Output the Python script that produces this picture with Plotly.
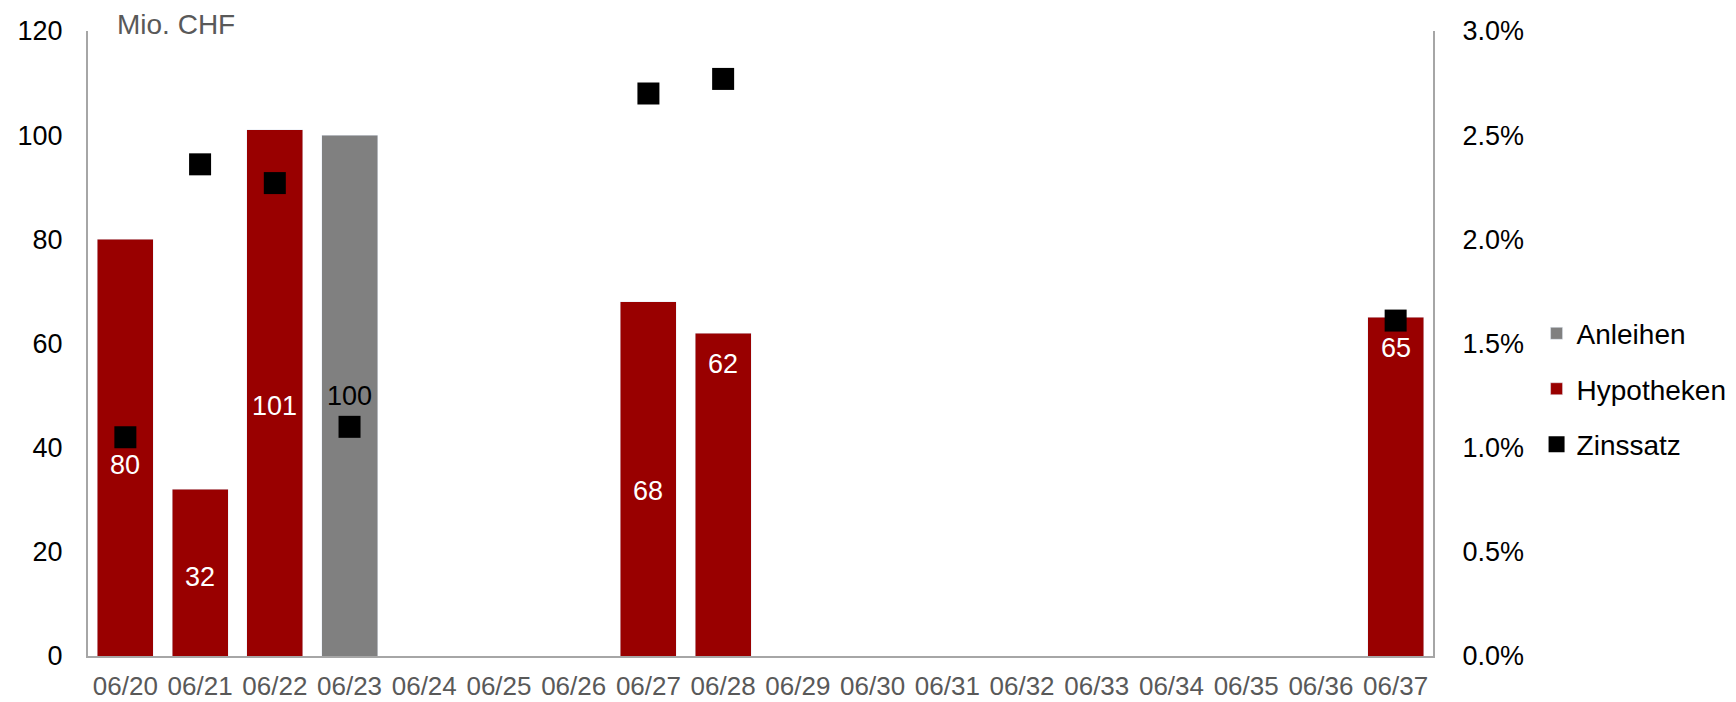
import plotly.graph_objects as go

categories = ["06/20", "06/21", "06/22", "06/23", "06/24", "06/25", "06/26", "06/27", "06/28",
              "06/29", "06/30", "06/31", "06/32", "06/33", "06/34", "06/35", "06/36", "06/37"]
anleihen = [None, None, None, 100, None, None, None, None, None,
            None, None, None, None, None, None, None, None, None]
hypotheken = [80, 32, 101, None, None, None, None, 68, 62,
              None, None, None, None, None, None, None, None, 65]
zinssatz = [0.0105, 0.0236, 0.0227, 0.0110, None, None, None, 0.0270, 0.0277,
            None, None, None, None, None, None, None, None, 0.0161]
# vertical anchor of each bar's value label (in Mio. CHF)
label_anchor = [36.9, 15.4, 48.2, 50.1, None, None, None, 31.9, 56.3,
                None, None, None, None, None, None, None, None, 59.4]

FONT = "Liberation Sans, Arial, sans-serif"
AXIS_GRAY = "#a6a6a6"

L, R, T, B = 88, 303, 31, 46
W, H = 1736, 702
pw, ph = W - L - R, H - T - B

fig = go.Figure()
fig.add_trace(go.Bar(x=categories, y=anleihen, name="Anleihen", marker_color="#808080",
                     legendgroup="a", yaxis="y"))
fig.add_trace(go.Bar(x=categories, y=hypotheken, name="Hypotheken", marker_color="#990000",
                     legendgroup="b", yaxis="y"))
fig.add_trace(go.Scatter(x=categories, y=zinssatz, name="Zinssatz", mode="markers",
                         marker=dict(symbol="square", size=22, color="#000000"),
                         legendgroup="c", yaxis="y2"))

annotations = []
for i, cat in enumerate(categories):
    pos = label_anchor[i]
    if pos is None:
        continue
    if hypotheken[i] is not None:
        val, col = hypotheken[i], "#ffffff"
    else:
        val, col = anleihen[i], "#000000"
    annotations.append(dict(x=cat, y=pos, xref="x", yref="y", text=str(val), showarrow=False,
                            yshift=-1,
                            font=dict(family=FONT, size=27, color=col)))
annotations.append(dict(x=(115 - L) / pw, y=(H - B - 25) / ph, xref="paper", yref="paper",
                        text="Mio. CHF", showarrow=False,
                        font=dict(family=FONT, size=28, color="#595959"),
                        xanchor="left", yanchor="middle"))

fig.update_layout(
    width=W, height=H,
    margin=dict(l=L, r=R, t=T, b=B, pad=0, autoexpand=False),
    paper_bgcolor="white", plot_bgcolor="white",
    barmode="stack", bargap=0.25,
    font=dict(family=FONT, size=27, color="#000000"),
    showlegend=True,
    legend=dict(x=1.077, y=0.427, xanchor="left", yanchor="middle",
                traceorder="grouped", tracegroupgap=16,
                font=dict(family=FONT, size=28, color="#000000"),
                itemwidth=30, bgcolor="rgba(0,0,0,0)"),
    xaxis=dict(type="category", range=[-0.5, len(categories) - 0.5], autorange=False,
               automargin=False,
               showgrid=False, showline=True, linecolor=AXIS_GRAY, linewidth=2,
               ticks="", tickfont=dict(family=FONT, size=26, color="#595959"),
               ticklabelstandoff=6, mirror=False),
    yaxis=dict(range=[0, 120], dtick=20, showgrid=False, showline=True, linecolor=AXIS_GRAY,
               linewidth=2, ticks="", zeroline=False, automargin=False,
               tickfont=dict(family=FONT, size=27, color="#000000"), ticklabelstandoff=18),
    yaxis2=dict(range=[0, 0.03], dtick=0.005, tickformat=".1%", overlaying="y", side="right",
                showgrid=False, showline=True, linecolor=AXIS_GRAY, linewidth=2, ticks="",
                zeroline=False, automargin=False,
                tickfont=dict(family=FONT, size=27, color="#000000"),
                ticklabelstandoff=22),
    annotations=annotations,
)

fig.write_html("out.html")
